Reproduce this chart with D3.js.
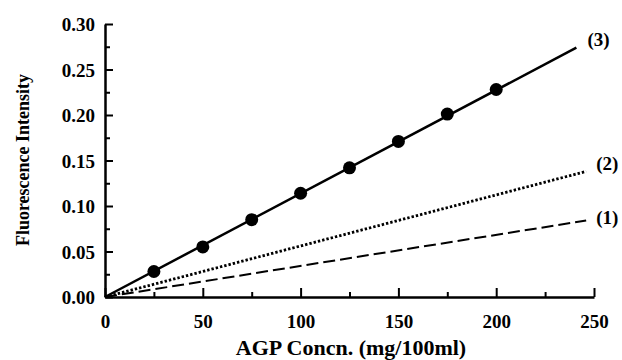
<!DOCTYPE html>
<html lang="en">
<head>
<meta charset="UTF-8">
<title>Fluorescence Intensity vs AGP Concn.</title>
<script src="https://d3js.org/d3.v7.min.js"></script>
<style>
    body { margin: 0; background: #fff; }
    svg text { font-family: "Liberation Serif", "Times New Roman", serif; font-weight: bold; fill: #000; }
</style>
</head>
<body>
<svg id="chart" width="622" height="360"></svg>
<script>
// measured points on curve (3)
const concPoints = [25, 50, 75, 100, 125, 150, 175, 200];
const intensityPoints = [0.028, 0.055, 0.085, 0.114, 0.142, 0.171, 0.201, 0.228];

// fitted lines, [start, end]
const line3 = [[0, 0], [241, 0.274]];
const line2 = [[0, 0], [246, 0.138]];
const line1 = [[0, 0], [246, 0.084]];
const lineLabels = ["(1)", "(2)", "(3)"];

const xTicks = [0, 50, 100, 150, 200, 250];
const yTicks = [0, 0.05, 0.10, 0.15, 0.20, 0.25, 0.30];

const svg = d3.select("#chart");
const x = d3.scaleLinear().domain([0, 250]).range([105, 594]);
const y = d3.scaleLinear().domain([0, 0.30]).range([297, 24]);

// axes - ticks point inward like the original
const xAxis = d3.axisBottom(x).tickValues(d3.range(0, 251, 25)).tickSizeInner(-9).tickSizeOuter(0)
    .tickFormat(d => xTicks.includes(d) ? d : "");
const gx = svg.append("g").attr("transform", "translate(0,297)").call(xAxis);
gx.select(".domain").attr("stroke-width", 2.5);
gx.selectAll(".tick line").attr("stroke-width", 2)
    .attr("y2", d => d % 50 === 0 ? -9 : -5);
gx.selectAll(".tick text").attr("font-size", 19).attr("dy", 0).attr("y", 31);

const yAxis = d3.axisLeft(y).tickValues(d3.range(0, 0.3001, 0.025)).tickSizeInner(-8).tickSizeOuter(0)
    .tickFormat((d, i) => i % 2 === 0 ? d3.format(".2f")(d) : "");
const gy = svg.append("g").attr("transform", "translate(105,0)").call(yAxis);
gy.select(".domain").attr("stroke-width", 2.5);
gy.selectAll(".tick line").attr("stroke-width", 2)
    .attr("x2", (d, i) => i % 2 === 0 ? 8 : 5);
gy.selectAll(".tick text").attr("font-size", 19).attr("x", -10).attr("dy", "0.35em");
svg.selectAll(".domain, .tick line").attr("stroke", "#000");

const line = d3.line().x(d => x(d[0])).y(d => y(d[1]));

svg.append("path").attr("d", line(line1)).attr("fill", "none")
    .attr("stroke", "#000").attr("stroke-width", 2).attr("stroke-dasharray", "12,5");
svg.append("path").attr("d", line(line2)).attr("fill", "none")
    .attr("stroke", "#000").attr("stroke-width", 2.8).attr("stroke-dasharray", "2.4,2");
svg.append("path").attr("d", line(line3)).attr("fill", "none")
    .attr("stroke", "#000").attr("stroke-width", 2.5);

svg.selectAll("circle.pt").data(concPoints).join("circle")
    .attr("class", "pt")
    .attr("cx", d => x(d))
    .attr("cy", (d, i) => y(intensityPoints[i]))
    .attr("r", 6.5)
    .attr("fill", "#000");

// line labels
const labelPos = [[line1[1], 10, -3], [line2[1], 10, -8], [line3[1], 11, -8]];
labelPos.forEach((p, i) => {
    svg.append("text")
        .attr("x", x(p[0][0]) + p[1])
        .attr("y", y(p[0][1]) + p[2])
        .attr("dy", "0.35em")
        .attr("font-size", 19)
        .text(lineLabels[i]);
});

// axis titles
svg.append("text").attr("x", 351).attr("y", 355).attr("text-anchor", "middle")
    .attr("font-size", 22).text("AGP Concn. (mg/100ml)");
svg.append("text").attr("transform", "translate(29,160) rotate(-90)").attr("text-anchor", "middle")
    .attr("font-size", 18).text("Fluorescence Intensity");
</script>
</body>
</html>
